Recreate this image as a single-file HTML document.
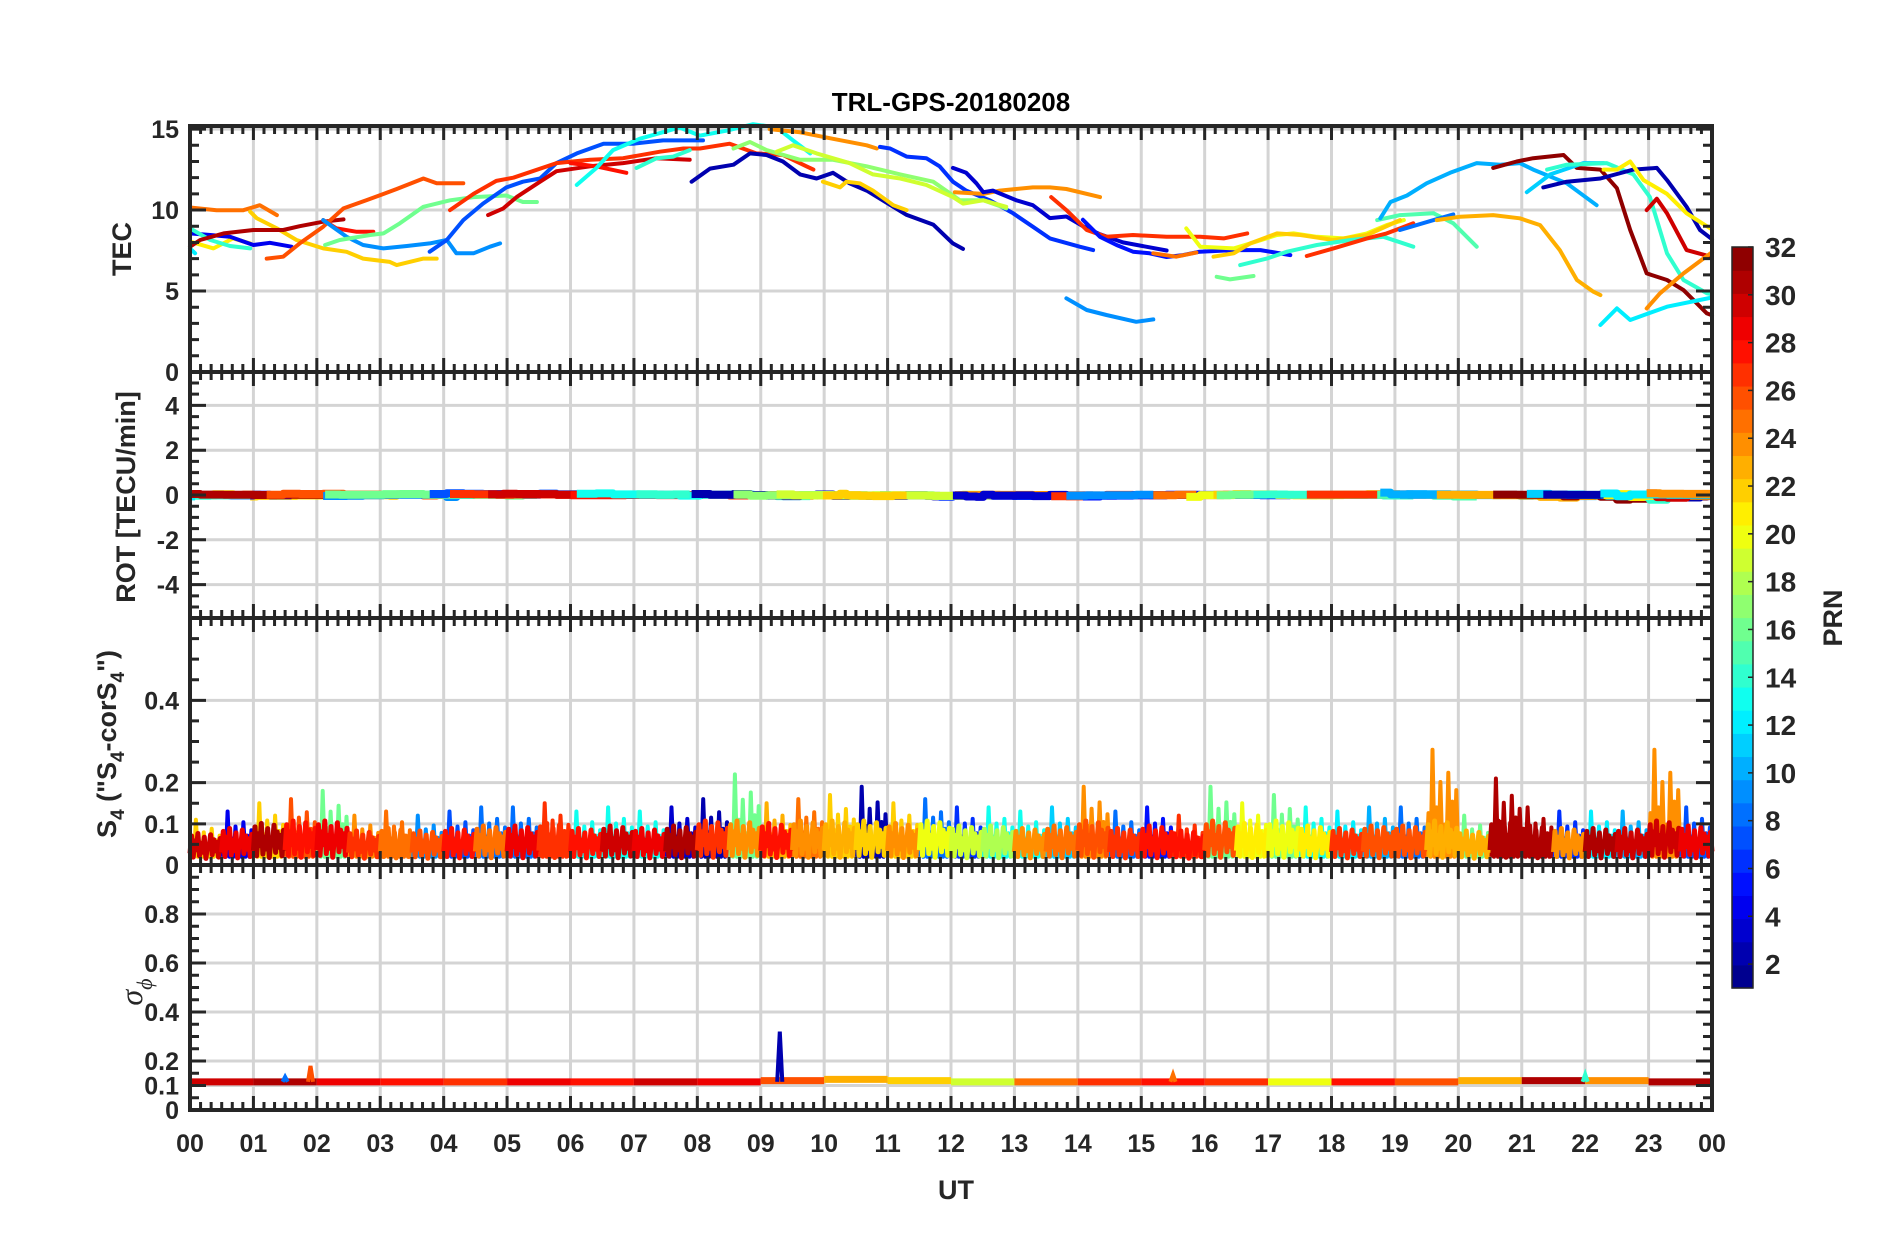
<!DOCTYPE html>
<html><head><meta charset="utf-8">
<style>
html,body{margin:0;padding:0;background:#fff;}
svg{display:block;font-family:"Liberation Sans",sans-serif;}
</style></head>
<body>
<svg id="fig" width="1902" height="1236" viewBox="0 0 1902 1236" xmlns="http://www.w3.org/2000/svg">
<rect width="1902" height="1236" fill="#fff"/>
<g id="grid"></g>
<g id="tec"></g>
<g id="rot"></g>
<g id="s4"></g>
<g id="sig"></g>
<g id="axes"></g>
<g id="cbar"></g>
<text x="951" y="111" text-anchor="middle" font-size="26" font-weight="bold" fill="#000">TRL-GPS-20180208</text>
<text x="956" y="1199" text-anchor="middle" font-size="27" font-weight="bold" fill="#262626">UT</text>
<text transform="translate(131,249) rotate(-90)" text-anchor="middle" font-size="27" font-weight="bold" fill="#262626">TEC</text>
<text transform="translate(135,497) rotate(-90)" text-anchor="middle" font-size="27" font-weight="bold" fill="#262626">ROT [TECU/min]</text>
<text transform="translate(116,744) rotate(-90)" text-anchor="middle" font-size="27" font-weight="bold" fill="#262626">S<tspan font-size="19" dy="8">4</tspan><tspan dy="-8"> ("S</tspan><tspan font-size="19" dy="8">4</tspan><tspan dy="-8">-corS</tspan><tspan font-size="19" dy="8">4</tspan><tspan dy="-8">")</tspan></text>
<text transform="translate(142,992) rotate(-90)" text-anchor="middle" font-size="32" font-style="italic" font-family="Liberation Serif, serif" fill="#262626">σ<tspan font-size="22" dy="10">ϕ</tspan></text>
<text transform="translate(1842,618) rotate(-90)" text-anchor="middle" font-size="27" font-weight="bold" fill="#262626">PRN</text>
</svg>
<script>
// ---------------- data ----------------
const hourTicks = ["00","01","02","03","04","05","06","07","08","09","10","11","12","13","14","15","16","17","18","19","20","21","22","23","00"];
const tecTicks = [0,5,10,15];
const rotTicks = [-4,-2,0,2,4];
const s4Ticks = [0,0.1,0.2,0.4];
const sigTicks = [0,0.1,0.2,0.4,0.6,0.8];
const cbarTicks = [2,4,6,8,10,12,14,16,18,20,22,24,26,28,30,32];

const tecPrn = [25,22,21,4,14,12,31,28,26,9,16,7,27,30,28,13,14,2,24,6,17,19,22,24,3,27,5,9,25,20,22,14,16,27,15,8,10,23,32,11,14,2,21,30,12,24];
const tecTimes = [
[0,0.42,0.84,1.10,1.37],
[0.95,1.05,1.37,1.68,2.10,2.47,2.73,3.15,3.26,3.68,3.89],
[0,0.37,0.68,0.95],
[0,0.32,0.63,1.0,1.26,1.6],
[0,0.32,0.63,0.95],
[0,0.08],
[0,0.16,0.53,1.0,1.47,1.73,2.1,2.42],
[2.1,2.31,2.63,2.89],
[1.21,1.47,1.73,2.1,2.42,2.78,3.26,3.68,3.89,4.31],
[2.1,2.47,2.73,3.05,3.42,3.78,4.05,4.2,4.47,4.73,4.89],
[2.13,2.36,2.84,3.05,3.31,3.68,4.1,4.47,4.99,5.25,5.47],
[3.78,4.05,4.31,4.62,4.99,5.25,5.52,5.78,6.10,6.52,6.99,7.46,8.09],
[4.1,4.47,4.83,5.1,5.78,6.31,6.83,7.41,7.78,8.04,8.51,8.93,9.35,9.72,9.83],
[4.70,4.94,5.15,5.52,5.78,6.31,6.83,7.36,7.88],
[6.0,6.4,6.88],
[6.10,6.41,6.67,7.09,7.72,8.04,8.46,8.88,9.25,9.51,9.78],
[7.04,7.36,7.62,7.88],
[7.91,8.20,8.57,8.83,9.09,9.35,9.62,9.88,10.14,10.4,10.67,11.09,11.3,11.72,12.03,12.19],
[9.14,9.62,10.14,10.67,10.83],
[10.88,11.04,11.3,11.61,11.82,12.03,12.24,12.61,12.98,13.29,13.56,14.03,14.24],
[8.57,8.83,9.09,9.62,10.14,10.67,11.2,11.72,12.14,12.51,12.87],
[9.25,9.51,9.88,10.4,10.77,11.2,11.61,12.03,12.19,12.51,12.87],
[9.98,10.25,10.35,10.56,10.77,11.09,11.3],
[12.06,12.51,12.77,13.29,13.56,13.82,14.35],
[12.03,12.24,12.4,12.51,12.66,13.03,13.29,13.56,13.82,14.08,14.35,14.71,15.13,15.4],
[13.58,13.82,14.14,14.45,14.87,15.4,15.93,16.3,16.67],
[14.08,14.35,14.61,14.87,15.13,15.4,15.66,15.92,16.45,16.88,17.35],
[13.82,14.14,14.45,14.92,15.19],
[15.19,15.55,15.87],
[15.71,15.93,16.46,16.72,17.14,17.4,17.77,18.19,18.56,18.87,19.14],
[16.14,16.46,16.72,17.14,17.51,18.03,18.56,19.08],
[16.56,16.98,17.3,17.77,18.3,18.82,19.29],
[16.19,16.4,16.77],
[17.61,18.03,18.56,18.87,19.29],
[18.72,19.08,19.61,19.92,20.29],
[19.08,19.61,19.92],
[18.77,18.93,19.19,19.5,19.87,20.29,20.66,20.97,21.18,21.71,22.18],
[19.66,20.03,20.55,20.97,21.29,21.6,21.87,22.13,22.24],
[20.55,20.92,21.18,21.66,21.87,22.24,22.5,22.71,22.97,23.29,23.55,23.92,24],
[21.08,21.45,21.97,22.29],
[21.4,21.71,22.34,22.76,23.02,23.29,23.55,23.92,24],
[21.34,21.71,22.24,22.76,23.13,23.29,23.6,23.81,24],
[22.29,22.5,22.71,22.92,23.29,23.6,24],
[22.97,23.13,23.29,23.6,24],
[22.24,22.5,22.71,23.29,24],
[22.97,23.18,23.55,24]
];
const tecValues = [
[10.16,9.99,9.99,10.3,9.69],
[9.9,9.5,8.87,8.15,7.63,7.42,7.0,6.8,6.6,7.0,7.0],
[8.05,7.63,8.25,7.94],
[8.56,8.46,8.35,7.84,7.98,7.74],
[8.87,8.15,7.78,7.63],
[7.63,7.33],
[7.74,8.15,8.56,8.77,8.77,9.0,9.28,9.42],
[9.38,8.87,8.66,8.66],
[7.0,7.12,7.94,8.97,10.1,10.6,11.3,11.95,11.65,11.65],
[9.38,8.35,7.84,7.63,7.78,7.94,8.15,7.33,7.33,7.74,7.94],
[7.84,8.15,8.46,8.56,9.18,10.2,10.6,10.8,10.9,10.5,10.5],
[7.43,8.15,9.38,10.4,11.4,11.75,11.95,12.9,13.5,14.1,14.1,14.3,14.3],
[10.0,11.0,11.8,12.0,12.9,13.1,13.2,13.6,13.8,13.8,14.1,13.5,13.4,12.7,12.5],
[9.69,10.1,10.8,11.75,12.4,12.7,12.9,13.2,13.1],
[12.9,12.7,12.3],
[11.55,12.6,13.7,14.4,15.1,14.6,14.9,15.3,15.1,14.3,13.5],
[12.6,13.2,13.3,13.7],
[11.75,12.56,12.8,13.5,13.4,13.0,12.2,11.95,12.3,11.65,11.2,10.2,9.7,9.1,7.94,7.6],
[15.0,14.8,14.4,14.0,13.8],
[13.9,13.8,13.3,13.2,12.7,11.75,11.2,10.6,9.8,8.97,8.25,7.74,7.53],
[13.8,14.2,13.7,13.1,13.1,12.7,12.2,11.75,10.6,10.6,10.1],
[13.6,14.0,13.5,12.9,12.2,11.95,11.55,10.8,10.4,10.6,10.2],
[11.75,11.4,11.75,11.65,11.2,10.3,10.0],
[11.1,11.0,11.2,11.4,11.4,11.3,10.8],
[12.6,12.3,11.65,11.1,11.2,10.6,10.3,9.5,9.6,9.0,8.5,8.0,7.7,7.5],
[10.8,10.0,8.77,8.35,8.46,8.35,8.35,8.25,8.56],
[9.4,8.35,7.84,7.43,7.33,7.1,7.22,7.43,7.53,7.53,7.22],
[4.55,3.83,3.52,3.1,3.25],
[7.33,7.12,7.37],
[8.87,7.74,7.63,7.94,8.46,8.56,8.35,8.25,8.56,9.07,9.38],
[7.12,7.33,7.94,8.56,8.46,8.15,8.46,9.38],
[6.6,7.0,7.43,7.84,8.15,8.35,7.74],
[5.88,5.72,5.93],
[7.16,7.63,8.25,8.56,9.18],
[9.38,9.69,9.8,9.18,7.74],
[8.77,9.38,9.73],
[9.49,10.5,10.9,11.65,12.3,12.9,12.8,12.9,12.5,11.65,10.3],
[9.38,9.59,9.69,9.49,9.07,7.53,5.68,4.96,4.75],
[12.6,13.0,13.2,13.4,12.6,12.5,11.35,8.77,6.09,5.68,5.06,3.62,3.5],
[11.1,12.2,12.9,12.9],
[12.5,12.8,12.9,12.2,10.8,7.33,5.68,4.86,4.8],
[11.4,11.75,11.95,12.5,12.6,11.85,10.2,8.77,8.2],
[12.5,12.5,13.0,11.85,11.0,9.8,8.8],
[10.0,10.7,9.8,7.53,7.1],
[2.9,3.93,3.21,4.03,4.6],
[3.93,4.86,6.09,7.4]
];

const s4Peak = [0.11,0.13,0.15,0.16,0.18,0.12,0.13,0.12,0.13,0.14,0.14,0.15,0.13,0.14,0.13,0.14,0.16,0.22,0.15,0.16,0.17,0.19,0.15,0.16,0.14,0.14,0.13,0.14,0.19,0.13,0.14,0.12,0.19,0.15,0.17,0.14,0.13,0.14,0.14,0.28,0.12,0.21,0.14,0.13,0.13,0.13,0.28,0.14];
const s4BandPrn = [30,29,31,28,29,27,25,26,28,25,29,27,28,30,29,31,27,24,28,24,23,22,24,20,19,18,24,25,26,27,28,28,26,21,20,21,27,26,26,23,23,31,31,24,31,30,30,29];
const s4SpikePrn = [22,4,22,26,16,24,25,9,7,8,8,27,13,13,13,3,2,16,23,25,22,2,22,8,6,13,13,11,24,8,5,27,16,20,16,13,12,10,8,24,16,31,31,6,12,10,24,7];

const sigmaLevel = [0.115,0.115,0.115,0.115,0.115,0.115,0.115,0.115,0.115,0.12,0.125,0.12,0.115,0.115,0.115,0.115,0.115,0.115,0.115,0.115,0.12,0.12,0.12,0.115];
const sigmaPrn = [30,31,29,28,27,29,28,30,29,26,23,22,19,25,27,28,27,20,28,26,23,31,24,31];
const sigmaSpikeHours = [1.9,1.5,9.3,15.5,22.0];
const sigmaSpikeValues = [0.18,0.135,0.32,0.145,0.145];
const sigmaSpikePrn = [26,8,2,25,14];

// ---------------- geometry ----------------
const L = 190, R = 1712;
const X = h => L + h * (R - L) / 24;
const panels = {
  tec: {top:126, bottom:372, min:0, max:15.19},
  rot: {top:372, bottom:618, min:-5.49, max:5.49},
  s4:  {top:618, bottom:865, min:0, max:0.6},
  sig: {top:865, bottom:1110, min:0, max:1.0}
};
const Y = (p, v) => p.bottom - (v - p.min) / (p.max - p.min) * (p.bottom - p.top);

function jet(i, n) {
  const v = (i + 0.5) / n;
  const c = t => Math.round(255 * Math.max(0, Math.min(1, 1.5 - Math.abs(4 * v - t))));
  return `rgb(${c(3)},${c(2)},${c(1)})`;
}
const prnColor = p => jet(p - 1, 32);
const NS = "http://www.w3.org/2000/svg";
function mk(tag, attrs, parent) {
  const e = document.createElementNS(NS, tag);
  for (const k in attrs) e.setAttribute(k, attrs[k]);
  parent.appendChild(e);
  return e;
}
const gGrid = document.getElementById('grid');
const gTec = document.getElementById('tec');
const gRot = document.getElementById('rot');
const gS4 = document.getElementById('s4');
const gSig = document.getElementById('sig');
const gAx = document.getElementById('axes');
const gCb = document.getElementById('cbar');
const GRID = "#d4d4d4", AX = "#262626";

// grid
const panelTicks = {tec:tecTicks, rot:rotTicks, s4:s4Ticks, sig:sigTicks};
for (const key in panels) {
  const p = panels[key];
  for (let h = 1; h < 24; h++) {
    const l = mk('line', {x1:X(h), x2:X(h), y1:p.top, y2:p.bottom, stroke:GRID, 'stroke-width':3}, gGrid);
    
    
  }
  panelTicks[key].forEach(v => {
    const l = mk('line', {x1:L, x2:R, y1:Y(p, v), y2:Y(p, v), stroke:GRID, 'stroke-width':3}, gGrid);
    
    
  });
}

// TEC tracks
const pT = panels.tec;
tecPrn.forEach((prn, k) => {
  const pts = tecTimes[k].map((t, j) => X(t).toFixed(1) + ',' + Y(pT, tecValues[k][j]).toFixed(1)).join(' ');
  const l = mk('polyline', {points:pts, fill:'none', stroke:prnColor(prn), 'stroke-width':4, 'stroke-linejoin':'round', 'stroke-linecap':'round'}, gTec);
  
  
});

// ROT from TEC tracks
const pR = panels.rot;
tecPrn.forEach((prn, k) => {
  const t = tecTimes[k], v = tecValues[k];
  const pts = [];
  for (let j = 0; j < t.length - 1; j++) {
    const r = (v[j + 1] - v[j]) / ((t[j + 1] - t[j]) * 60);
    pts.push(X(t[j]).toFixed(1) + ',' + Y(pR, r).toFixed(1));
    pts.push(X(t[j + 1]).toFixed(1) + ',' + Y(pR, r).toFixed(1));
  }
  if (!pts.length) return;
  const l = mk('polyline', {points:pts.join(' '), fill:'none', stroke:prnColor(prn), 'stroke-width':8, 'stroke-linejoin':'round'}, gRot);
  
  
});

// S4
const pS = panels.s4;
const fr = [0.45, 1.0, 0.5, 0.72, 0.35, 0.8, 0.55, 0.65];
s4Peak.forEach((pk, i) => {
  const t0 = i * 0.5;
  let pts = [];
  for (let j = 0; j < fr.length; j++) {
    const t = t0 + j * 0.5 / fr.length;
    pts.push(X(t).toFixed(1) + ',' + Y(pS, 0.02).toFixed(1));
    pts.push(X(t + 0.03).toFixed(1) + ',' + Y(pS, pk * fr[j]).toFixed(1));
  }
  pts.push(X(t0 + 0.5).toFixed(1) + ',' + Y(pS, 0.02).toFixed(1));
  const sp = mk('polyline', {points:pts.join(' '), fill:'none', stroke:prnColor(s4SpikePrn[i]), 'stroke-width':4, 'stroke-linejoin':'round'}, gS4);
  
  
});
const bandPattern = [0.3, 1.0, 0.15, 0.8, 0.45, 1.1, 0.2, 0.7, 0.35, 0.95, 0.1, 0.6, 0.5, 1.05, 0.25, 0.85, 0.4, 0.75, 0.15, 0.9];
s4Peak.forEach((pk, i) => {
  const t0 = i * 0.5;
  const lvl = Math.min(pk, 0.16) * 0.55;
  let pts = [];
  for (let j = 0; j < bandPattern.length; j++) {
    const t = t0 + j * 0.5 / bandPattern.length;
    pts.push(X(t).toFixed(1) + ',' + Y(pS, 0.01 + lvl * bandPattern[j]).toFixed(1));
  }
  pts.push(X(t0 + 0.5).toFixed(1) + ',' + Y(pS, 0.01 + lvl * 0.3).toFixed(1));
  const b = mk('polyline', {points:pts.join(' '), fill:'none', stroke:prnColor(s4BandPrn[i]), 'stroke-width':5, 'stroke-linejoin':'round'}, gS4);
  
  
});

// sigma phi
const pP = panels.sig;
sigmaLevel.forEach((lv, i) => {
  const l = mk('line', {x1:X(i), x2:X(i + 1), y1:Y(pP, lv), y2:Y(pP, lv), stroke:prnColor(sigmaPrn[i]), 'stroke-width':7}, gSig);
  
  
});
sigmaSpikeHours.forEach((h, i) => {
  const pts = [X(h - 0.04), Y(pP, 0.115), X(h), Y(pP, sigmaSpikeValues[i]), X(h + 0.04), Y(pP, 0.115)].map(v => v.toFixed(1));
  const l = mk('polyline', {points:`${pts[0]},${pts[1]} ${pts[2]},${pts[3]} ${pts[4]},${pts[5]}`, fill:'none', stroke:prnColor(sigmaSpikePrn[i]), 'stroke-width':4}, gSig);
  
  
});

// axes, ticks
const minorY = {tec:1, rot:0.5, s4:0.05, sig:0.05};
for (const key in panels) {
  const p = panels[key];
  const box = mk('rect', {x:L, y:p.top, width:R - L, height:p.bottom - p.top, fill:'none', stroke:AX, 'stroke-width':4}, gAx);
  
  
  let d = '';
  for (let m = 0; m <= 144; m++) {
    const x = X(m / 6), len = m % 6 === 0 ? 14 : 8;
    d += `M${x},${p.top}v${len}M${x},${p.bottom}v${-len}`;
  }
  const st = minorY[key];
  for (let v = p.min - (p.min % st); v <= p.max + 1e-9; v += st) {
    const isMajor = panelTicks[key].some(t => Math.abs(t - v) < 1e-6);
    const len = isMajor ? 16 : 9, y = Y(p, v);
    if (y < p.top - 0.5 || y > p.bottom + 0.5) continue;
    d += `M${L},${y}h${len}M${R},${y}h${-len}`;
  }
  const tk = mk('path', {d:d, stroke:AX, 'stroke-width':3, fill:'none'}, gAx);
  
  
  panelTicks[key].forEach(v => {
    const t = mk('text', {x:179, y:Y(p, v) + 9, 'text-anchor':'end', 'font-size':25, 'font-weight':'bold', fill:AX}, gAx);
    t.textContent = String(v);
    
    
  });
}
hourTicks.forEach((lab, i) => {
  const t = mk('text', {x:X(i), y:1152, 'text-anchor':'middle', 'font-size':25, 'font-weight':'bold', fill:AX}, gAx);
  t.textContent = lab;
  
  
});

// colorbar
const cbTop = 247, cbBot = 988, cbL = 1732, cbR = 1753;
const bandH = (cbBot - cbTop) / 32;
for (let i = 0; i < 32; i++) {
  const r = mk('rect', {x:cbL, y:(cbBot - (i + 1) * bandH).toFixed(2), width:cbR - cbL, height:(bandH + 0.6).toFixed(2), fill:jet(i, 32)}, gCb);
  
  
}
const cbBox = mk('rect', {x:cbL, y:cbTop, width:cbR - cbL, height:cbBot - cbTop, fill:'none', stroke:AX, 'stroke-width':1.5}, gCb);


cbarTicks.forEach(v => {
  const y = cbBot - (v - 1) / 31 * (cbBot - cbTop);
  const l = mk('line', {x1:cbR - 5, x2:cbR, y1:y, y2:y, stroke:AX, 'stroke-width':1.5}, gCb);
  
  
  const t = mk('text', {x:1765, y:y + 10, 'font-size':28, 'font-weight':'bold', fill:AX}, gCb);
  t.textContent = String(v);
  
  
});
</script>
</body></html>
